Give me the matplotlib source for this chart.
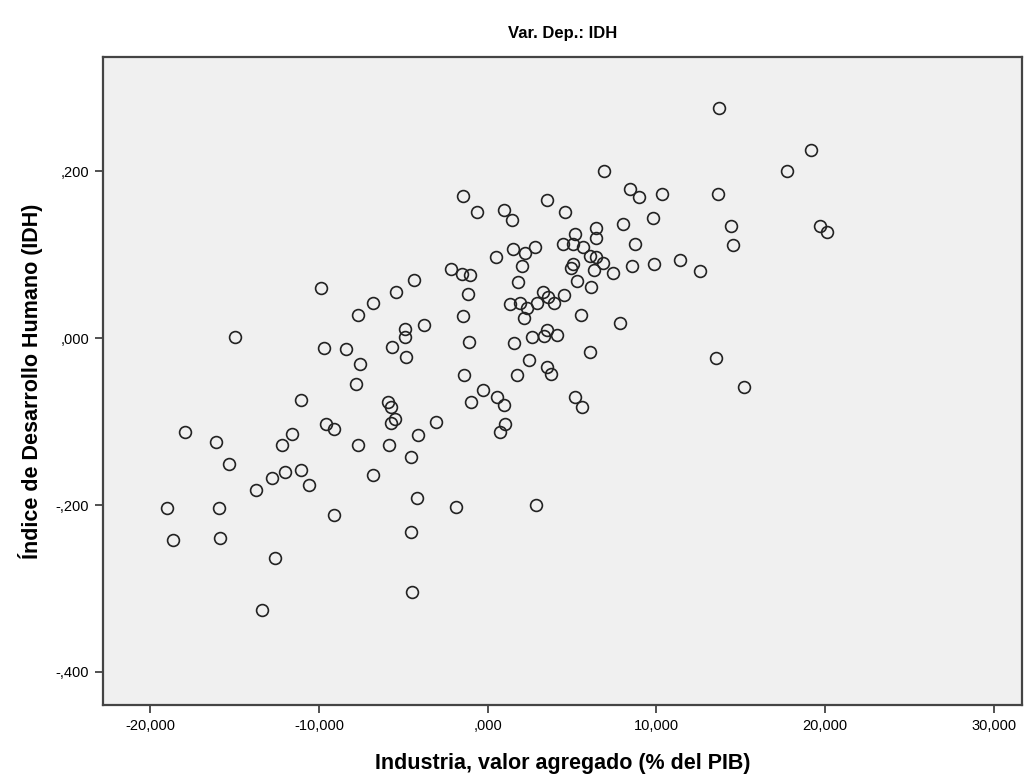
import matplotlib
matplotlib.use("Agg")
import matplotlib.pyplot as plt
from matplotlib.ticker import FuncFormatter

plt.rcParams['font.family'] = ['Liberation Sans', 'DejaVu Sans']

# partial regression residuals
industria = [
    -9.90, -15.00, -9.72, -11.09, -9.60, -9.13, -17.96, -16.12, -11.62, -12.21,
    -15.35, -12.80, -12.03, -11.09, -13.75, -10.61, -19.03, -15.95, -9.13, -18.67,
    -15.89, -12.63, -13.40, -2.19, -1.54, -1.07, 0.47, -4.39, -5.45, -6.82,
    -7.71, -1.19, -1.48, -4.92, -4.92, -3.79, -1.13, -8.42, -5.69, -4.86,
    -7.59, -7.83, -1.42, -0.30, -1.01, 0.53, -5.93, -5.75, -5.51, -5.75,
    -3.08, -4.15, 0.71, -7.71, -5.87, -4.56, -6.82, -4.21, -1.90, -4.56,
    -4.51, 6.88, -1.48, -0.65, 0.95, 1.42, 3.50, 4.56, 8.00, 5.16,
    6.40, 6.40, 4.45, 5.04, 5.63, 6.05, 6.40, 6.82, 7.41, 6.28,
    5.04, 4.92, 5.28, 6.11, 1.48, 2.19, 2.79, 2.02, 1.78, 1.30,
    1.90, 2.31, 2.13, 2.90, 3.26, 3.56, 3.91, 4.51, 5.51, 7.82,
    3.50, 3.32, 2.61, 4.09, 1.54, 6.05, 1.72, 2.43, 3.50, 3.73,
    0.95, 5.16, 5.57, 1.01, 13.69, 17.72, 8.42, 8.95, 10.31, 13.63,
    9.78, 14.40, 8.71, 14.52, 8.54, 9.84, 11.38, 12.57, 13.52, 15.17,
    19.15, 19.68, 20.09, 2.85,
]
idh = [
    0.060, 0.001, -0.012, -0.074, -0.103, -0.109, -0.113, -0.124, -0.115, -0.128,
    -0.151, -0.168, -0.160, -0.158, -0.182, -0.176, -0.203, -0.204, -0.212, -0.242,
    -0.240, -0.263, -0.326, 0.083, 0.077, 0.076, 0.097, 0.070, 0.055, 0.042,
    0.028, 0.053, 0.026, 0.011, 0.001, 0.016, -0.004, -0.013, -0.011, -0.023,
    -0.031, -0.055, -0.044, -0.062, -0.077, -0.071, -0.077, -0.083, -0.097, -0.102,
    -0.101, -0.116, -0.112, -0.128, -0.128, -0.142, -0.164, -0.191, -0.202, -0.232,
    -0.304, 0.200, 0.170, 0.151, 0.154, 0.142, 0.166, 0.151, 0.137, 0.125,
    0.132, 0.120, 0.113, 0.113, 0.109, 0.098, 0.097, 0.090, 0.078, 0.082,
    0.089, 0.084, 0.068, 0.061, 0.107, 0.102, 0.109, 0.086, 0.067, 0.041,
    0.042, 0.036, 0.024, 0.042, 0.055, 0.049, 0.042, 0.052, 0.028, 0.018,
    0.010, 0.002, 0.001, 0.004, -0.006, -0.016, -0.044, -0.026, -0.034, -0.043,
    -0.080, -0.071, -0.083, -0.103, 0.276, 0.200, 0.179, 0.169, 0.173, 0.173,
    0.144, 0.134, 0.113, 0.112, 0.086, 0.089, 0.094, 0.080, -0.024, -0.059,
    0.226, 0.134, 0.127, -0.200,
]

x_ticks = [-20, -10, 0, 10, 20, 30]
y_ticks = [-0.4, -0.2, 0.0, 0.2]


def spss_fmt(v, pos=None):
    s = f"{v:.3f}".replace(".", ",")
    if s.startswith("0,"):
        s = s[1:]
    elif s.startswith("-0,"):
        s = "-" + s[2:]
    if s == "-,000":
        s = ",000"
    return s


fig = plt.figure(figsize=(10.30, 7.81), dpi=100)
ax = fig.add_axes([0.100, 0.097, 0.892, 0.830])
ax.set_facecolor("#f0f0f0")

ax.plot(industria, idh, linestyle="none", marker="o", markersize=8.5,
        markerfacecolor="none", markeredgecolor="#222222", markeredgewidth=1.2)

ax.set_xlim(-22.8, 31.65)
ax.set_ylim(-0.440, 0.337)
ax.set_xticks(x_ticks)
ax.set_yticks(y_ticks)
ax.xaxis.set_major_formatter(FuncFormatter(spss_fmt))
ax.yaxis.set_major_formatter(FuncFormatter(spss_fmt))
ax.tick_params(direction="out", length=6, width=1.2, color="#333333",
               labelsize=10.5, labelcolor="black", pad=4)

for sp in ax.spines.values():
    sp.set_color("#444444")
    sp.set_linewidth(1.6)

ax.set_xlabel("Industria, valor agregado (% del PIB)", fontsize=15.5,
              fontweight="bold", labelpad=14)
ax.set_ylabel("Índice de Desarrollo Humano (IDH)", fontsize=15.5,
              fontweight="bold", labelpad=9)
ax.set_title("Var. Dep.: IDH", fontsize=12, fontweight="bold", pad=14)

fig.savefig("out.png", dpi=100)
